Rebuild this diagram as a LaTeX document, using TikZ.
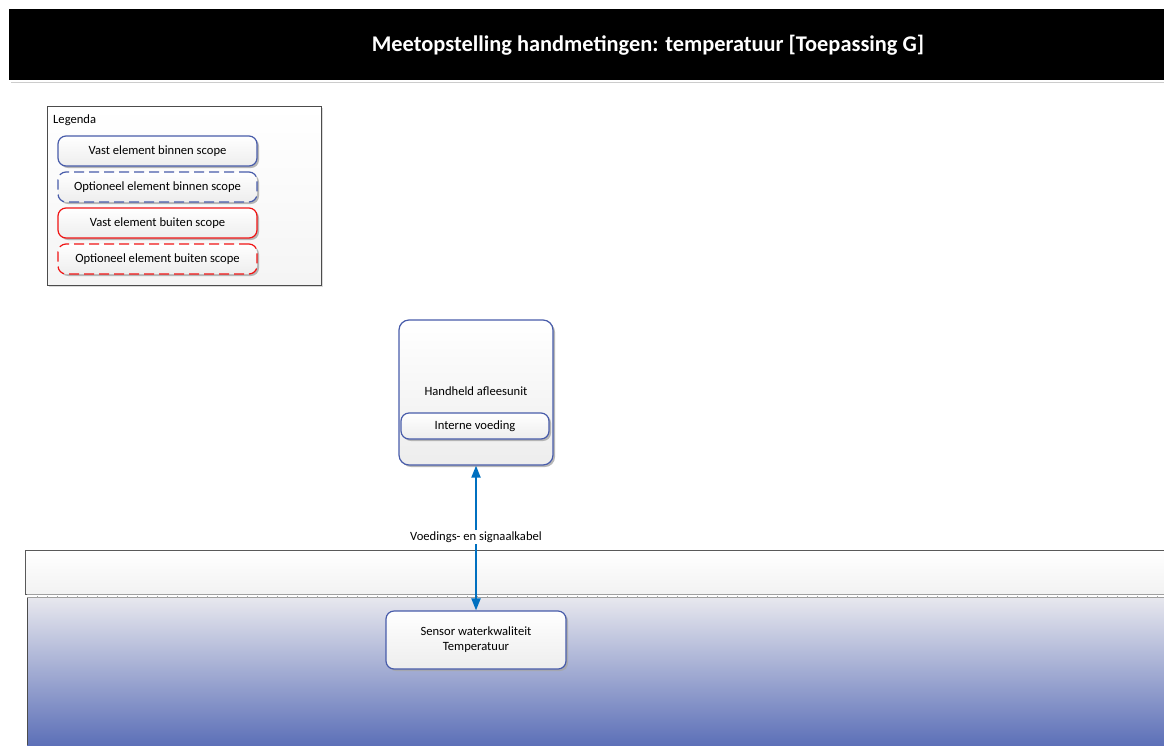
\documentclass[tikz,border=0pt]{standalone}
\usepackage{fontspec}
\setmainfont{Carlito}
\usetikzlibrary{arrows.meta,shadows}
\definecolor{edgeblue}{RGB}{72,92,170}
\definecolor{cableblue}{RGB}{0,112,192}
\definecolor{edgered}{RGB}{240,20,20}
\definecolor{waterlow}{RGB}{88,108,182}
\definecolor{waterhigh}{RGB}{232,232,238}
\tikzset{
  x=1pt, y=-1pt,
  every node/.style={font=\fontsize{12.6}{15}\selectfont, inner sep=0pt},
  elbox/.style={rectangle, rounded corners=8pt, line width=1.2pt,
    top color=white, bottom color=gray!14,
    drop shadow={shadow xshift=2pt, shadow yshift=-2pt, fill=gray!70, opacity=0.8, draw=none}},
  inscope/.style={elbox, draw=edgeblue},
  outscope/.style={elbox, draw=edgered},
  optional/.style={dash pattern=on 10pt off 5pt},
  cable/.style={draw=cableblue, line width=2pt, {Triangle[length=12pt,width=9pt,fill=cableblue]}-{Triangle[length=12pt,width=9pt,fill=cableblue]}},
}
\begin{document}
\begin{tikzpicture}
\useasboundingbox (0,0) rectangle (1164,745);

% title bar
\draw[gray!40, line width=1pt] (11,82) -- (1164,82);
\fill[black] (9,9) rectangle (1170,80);
\node[text=white, font=\fontsize{22.4}{26}\selectfont\bfseries] (title) at (648,45.5) {Meetopstelling handmetingen: temperatuur [Toepassing G]};

% legend
\node[draw=gray!60!black, line width=0.8pt, top color=white, bottom color=gray!8,
  minimum width=274pt, minimum height=179pt,
  drop shadow={shadow xshift=2pt, shadow yshift=-2pt, fill=gray!35, opacity=0.8, draw=none}]
  (legend) at (184,195.5) {};
\node[anchor=west] (legendtitle) at (53,120.5) {Legenda};
\node[inscope, minimum width=199pt, minimum height=30pt] (l1) at (157.5,151) {Vast element binnen scope};
\node[inscope, optional, minimum width=199pt, minimum height=30pt] (l2) at (157.5,187) {Optioneel element binnen scope};
\node[outscope, minimum width=199pt, minimum height=30pt] (l3) at (157.5,223) {Vast element buiten scope};
\node[outscope, optional, minimum width=199pt, minimum height=30pt] (l4) at (157.5,259) {Optioneel element buiten scope};

% surface band and water body
\draw[gray!70!black, line width=0.9pt, top color=white, bottom color=gray!10]
  (1170,550) -- (25,550) -- (25,594) -- (1170,594);
\shade[top color=waterhigh, bottom color=waterlow] (27,597) rectangle (1170,750);
\draw[gray!60!black, line width=0.9pt] (27,597) -- (27,745);
\draw[gray!75, line width=0.8pt] (27,594.8) -- (1170,594.8);
\draw[gray!75, line width=0.8pt] (27,597.3) -- (1170,597.3);
\foreach \t in {37,47,...,1164} \draw[gray!70, line width=0.5pt] (\t,596) -- (\t,598);

% reader unit
\node[inscope, rounded corners=10pt, minimum width=154pt, minimum height=145pt] (reader) at (476,392.5) {};
\node (readerlabel) at (476,391.5) {Handheld afleesunit};
\node[inscope, minimum width=148pt, minimum height=26pt] (power) at (475,426) {Interne voeding};

% sensor
\node[inscope, minimum width=180pt, minimum height=58pt, align=center] (sensor) at (476,640)
  {Sensor waterkwaliteit\\Temperatuur};

% cable between reader and sensor
\draw[cable] (reader.south) -- (sensor.north);
\node[fill=white, inner sep=2pt] (cablelabel) at (476,537) {Voedings- en signaalkabel};
\end{tikzpicture}
\end{document}
